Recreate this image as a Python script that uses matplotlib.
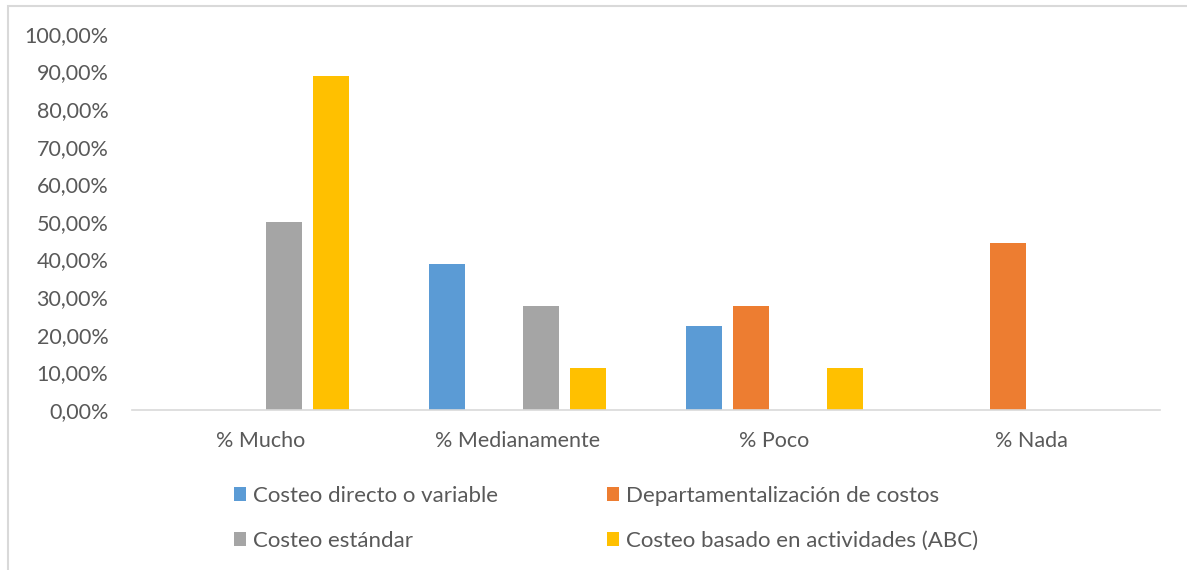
import numpy as np
import matplotlib.pyplot as plt
from matplotlib.patches import Rectangle
from matplotlib.ticker import FuncFormatter

plt.rcParams['font.family'] = ['Lato', 'DejaVu Sans']

categorias = ['% Mucho', '% Medianamente', '% Poco', '% Nada']
series = ['Costeo directo o variable', 'Departamentalización de costos',
          'Costeo estándar', 'Costeo basado en actividades (ABC)']
directo = [0.0, 38.89, 22.22, 0.0]
departamental = [0.0, 0.0, 27.78, 44.44]
estandar = [50.0, 27.78, 0.0, 0.0]
abc = [88.89, 11.11, 11.11, 0.0]
colores = ['#5b9bd5', '#ed7d31', '#a5a5a5', '#ffc000']

texto = '#595959'

fig = plt.figure(figsize=(11.87, 5.70), dpi=100)
ax = fig.add_axes([0.1112, 0.2807, 0.8661, 0.6597])

x = np.arange(len(categorias))
ancho = 0.14
paso = 0.183
valores = [directo, departamental, estandar, abc]
barras = []
for i, (v, c, nombre) in enumerate(zip(valores, colores, series)):
    barras.append(ax.bar(x + (i - 1.5) * paso, v, width=ancho, color=c, label=nombre))

ax.set_xlim(-0.5, 3.5)
ax.set_ylim(0, 100)
ax.set_yticks(np.arange(0, 101, 10))
ax.yaxis.set_major_formatter(FuncFormatter(lambda v, p: f'{v:.2f}%'.replace('.', ',')))
ax.set_xticks(x)
ax.set_xticklabels(categorias)
ax.tick_params(axis='both', length=0, labelsize=15.5, colors=texto)
ax.tick_params(axis='y', pad=17)
ax.tick_params(axis='x', pad=15)
for s in ['top', 'right', 'left']:
    ax.spines[s].set_visible(False)
ax.spines['bottom'].set_color('#d9d9d9')
ax.spines['bottom'].set_linewidth(1.2)

# marco exterior del gráfico
fig.patches.append(Rectangle((8 / 1187, -0.1), 1.2, 1 - 6 / 570 + 0.1,
                             transform=fig.transFigure, fill=False,
                             edgecolor='#d9d9d9', linewidth=1.5))

# orden por filas: columna 1 = directo, estandar; columna 2 = departamental, abc
orden = [0, 2, 1, 3]
fig.legend([barras[i] for i in orden], [series[i] for i in orden],
           loc='upper left', bbox_to_anchor=(214 / 1187, 1 - 466 / 570), ncol=2,
           frameon=False, fontsize=16, labelcolor=texto, handlelength=0.55,
           handleheight=0.55, handletextpad=0.3, columnspacing=4.9,
           labelspacing=1.12)

fig.savefig('out.png', dpi=100)
